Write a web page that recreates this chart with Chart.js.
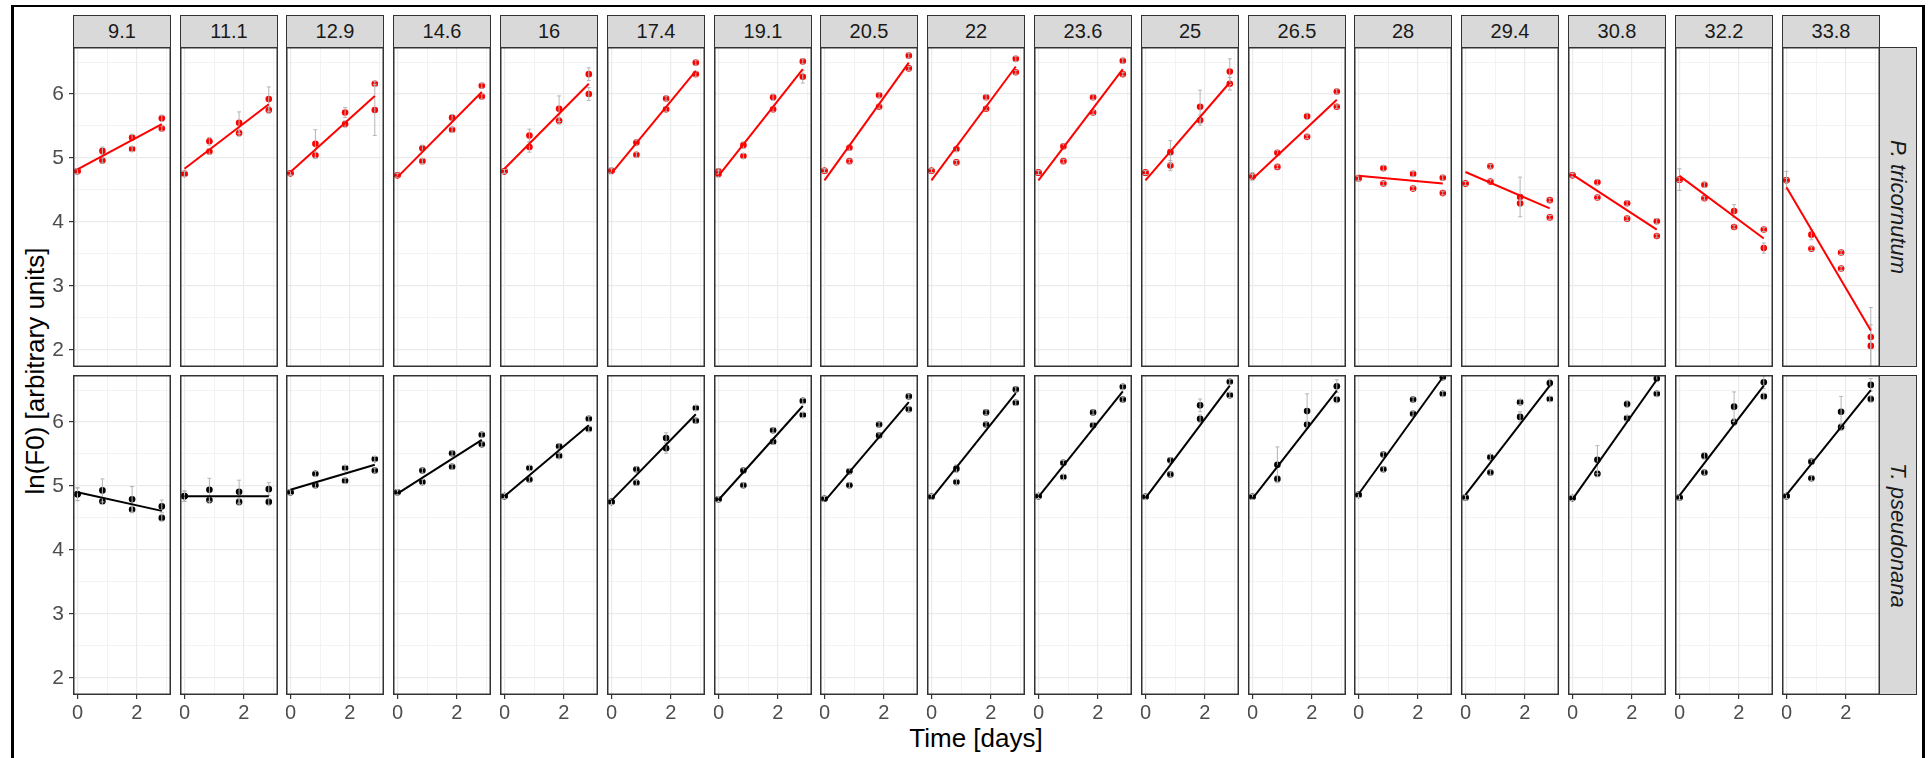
<!DOCTYPE html>
<html>
<head>
<meta charset="utf-8">
<script src="https://cdn.jsdelivr.net/npm/chart.js@4.4.0/dist/chart.umd.min.js"></script>
<style>
  body { margin: 0; background: #fff; width: 1928px; height: 758px; overflow: hidden; position: relative;
         font-family: "Liberation Sans", Arial, sans-serif; }
  .frame { position: absolute; left: 11px; top: 5px; width: 1914px; height: 800px; border: 3px solid #000;
           border-top-width: 2px; box-sizing: border-box; }
  .strip { position: absolute; background: #d9d9d9; border: 1.5px solid #333; box-sizing: border-box; color: #1a1a1a;
           font-size: 20px; display: flex; align-items: center; justify-content: center; }
  .vstrip { font-style: italic; font-size: 22px; writing-mode: vertical-rl; }
  canvas { position: absolute; }
  .title { position: absolute; color: #000; font-size: 26px; white-space: nowrap; }
</style>
</head>
<body>
<div class="frame"></div>
<div class="title" style="left:35px; top:371px; transform: translate(-50%, -50%) rotate(-90deg);">ln(F0) [arbitrary units]</div>
<div class="title" style="left:976px; top:738px; transform: translate(-50%, -50%);">Time [days]</div>
<script>
// temperature facets (columns) and species facets (rows)
var temps = ["9.1", "11.1", "12.9", "14.6", "16", "17.4", "19.1", "20.5", "22",
             "23.6", "25", "26.5", "28", "29.4", "30.8", "32.2", "33.8"];
var species = ["P. tricornutum", "T. pseudonana"];
var days = [0, 0.84, 1.84, 2.84];
var xTicks = [0, 1, 2, 3];          // labelled: 0 and 2
var yTicks = [2, 2.5, 3, 3.5, 4, 4.5, 5, 5.5, 6, 6.5];   // labelled: whole numbers

// ln(F0) per panel: two replicates per day [d0a, d0b, d1a, d1b, d2a, d2b, d3a, d3b]
var ptriValues = [
  [4.79, 4.79, 5.11, 4.96, 5.32, 5.14, 5.62, 5.46],
  [4.75, 4.75, 5.26, 5.10, 5.55, 5.39, 5.92, 5.75],
  [4.76, 4.76, 5.22, 5.04, 5.71, 5.53, 6.16, 5.75],
  [4.73, 4.73, 5.15, 4.95, 5.63, 5.44, 6.13, 5.96],
  [4.79, 4.79, 5.35, 5.17, 5.77, 5.58, 6.31, 6.00],
  [4.80, 4.80, 5.24, 5.05, 5.93, 5.76, 6.49, 6.31],
  [4.79, 4.75, 5.20, 5.03, 5.95, 5.76, 6.51, 6.27],
  [4.80, 4.80, 5.16, 4.95, 5.98, 5.80, 6.60, 6.40],
  [4.80, 4.80, 5.14, 4.93, 5.95, 5.77, 6.55, 6.34],
  [4.77, 4.77, 5.18, 4.95, 5.95, 5.71, 6.52, 6.31],
  [4.77, 4.77, 5.09, 4.88, 5.80, 5.59, 6.35, 6.16],
  [4.71, 4.71, 5.08, 4.86, 5.65, 5.33, 6.04, 5.80],
  [4.68, 4.68, 4.84, 4.60, 4.75, 4.52, 4.69, 4.45],
  [4.60, 4.60, 4.87, 4.63, 4.39, 4.29, 4.34, 4.07],
  [4.73, 4.73, 4.62, 4.38, 4.29, 4.05, 4.01, 3.78],
  [4.66, 4.66, 4.58, 4.37, 4.17, 3.92, 3.88, 3.59],
  [4.65, 4.65, 3.80, 3.58, 3.52, 3.27, 2.20, 2.06]
];
var ptriSd = [
  [.04, .04, .06, .04, .05, .04, .05, .04],
  [.04, .04, .06, .04, .17, .05, .19, .05],
  [.03, .03, .22, .05, .08, .05, .04, .40],
  [.03, .03, .05, .04, .05, .04, .04, .04],
  [.03, .03, .10, .08, .20, .05, .10, .10],
  [.05, .03, .04, .04, .04, .04, .04, .04],
  [.04, .05, .05, .04, .05, .04, .04, .10],
  [.03, .03, .04, .03, .04, .03, .04, .03],
  [.03, .03, .04, .03, .04, .03, .04, .03],
  [.03, .03, .04, .03, .04, .03, .04, .03],
  [.03, .03, .18, .08, .26, .08, .20, .10],
  [.06, .03, .04, .03, .05, .03, .04, .03],
  [.05, .03, .04, .03, .04, .03, .04, .03],
  [.03, .03, .03, .03, .31, .05, .03, .03],
  [.03, .03, .04, .03, .04, .03, .04, .03],
  [.17, .03, .04, .03, .10, .03, .03, .08],
  [.14, .03, .08, .03, .03, .03, .46, .33]
];
// fitted line, value at day 0 and at the last day
var ptriFit = [
  [4.82, 5.53], [4.83, 5.84], [4.78, 5.97], [4.70, 6.03], [4.83, 6.16], [4.76, 6.36],
  [4.72, 6.39], [4.65, 6.49], [4.65, 6.43], [4.65, 6.39], [4.65, 6.18], [4.67, 5.91],
  [4.72, 4.60], [4.78, 4.21], [4.74, 3.88], [4.72, 3.74], [4.54, 2.30]
];

var tpseValues = [
  [4.87, 4.87, 4.93, 4.76, 4.79, 4.63, 4.68, 4.50],
  [4.84, 4.84, 4.94, 4.78, 4.91, 4.75, 4.95, 4.75],
  [4.90, 4.90, 5.19, 5.01, 5.28, 5.08, 5.42, 5.24],
  [4.90, 4.90, 5.24, 5.06, 5.51, 5.30, 5.80, 5.65],
  [4.84, 4.84, 5.28, 5.10, 5.62, 5.47, 6.05, 5.89],
  [4.75, 4.75, 5.26, 5.05, 5.75, 5.59, 6.22, 6.02],
  [4.79, 4.79, 5.24, 5.01, 5.87, 5.69, 6.33, 6.11],
  [4.80, 4.80, 5.23, 5.01, 5.96, 5.79, 6.40, 6.20],
  [4.83, 4.83, 5.27, 5.06, 6.15, 5.96, 6.51, 6.30],
  [4.84, 4.84, 5.36, 5.14, 6.15, 5.95, 6.55, 6.35],
  [4.83, 4.83, 5.40, 5.18, 6.26, 6.05, 6.63, 6.42],
  [4.83, 4.83, 5.33, 5.11, 6.17, 5.96, 6.56, 6.35],
  [4.86, 4.86, 5.49, 5.26, 6.35, 6.13, 6.70, 6.44],
  [4.82, 4.82, 5.45, 5.21, 6.31, 6.08, 6.61, 6.36],
  [4.81, 4.81, 5.41, 5.19, 6.28, 6.06, 6.68, 6.44],
  [4.82, 4.82, 5.47, 5.21, 6.24, 6.00, 6.62, 6.40],
  [4.84, 4.84, 5.38, 5.12, 6.16, 5.92, 6.58, 6.36]
];
var tpseSd = [
  [.10, .10, .18, .05, .20, .05, .10, .05],
  [.08, .08, .18, .05, .18, .05, .10, .05],
  [.04, .04, .04, .04, .04, .04, .04, .04],
  [.04, .04, .04, .04, .04, .04, .04, .04],
  [.04, .04, .04, .04, .04, .04, .04, .04],
  [.04, .04, .04, .04, .08, .08, .04, .04],
  [.04, .04, .04, .04, .04, .04, .04, .04],
  [.04, .04, .04, .04, .04, .04, .04, .04],
  [.04, .04, .06, .04, .04, .04, .04, .04],
  [.04, .04, .04, .04, .04, .04, .04, .04],
  [.04, .04, .04, .04, .10, .06, .04, .04],
  [.04, .04, .28, .05, .27, .05, .10, .05],
  [.04, .04, .04, .04, .04, .04, .04, .04],
  [.04, .04, .04, .04, .04, .08, .06, .04],
  [.04, .04, .22, .05, .05, .04, .05, .04],
  [.04, .04, .05, .04, .23, .05, .10, .05],
  [.04, .04, .04, .04, .24, .05, .10, .05]
];
var tpseFit = [
  [4.90, 4.61], [4.84, 4.84], [4.94, 5.33], [4.88, 5.72], [4.84, 5.95], [4.77, 6.12],
  [4.78, 6.25], [4.76, 6.31], [4.80, 6.45], [4.83, 6.48], [4.81, 6.57], [4.80, 6.49],
  [4.87, 6.70], [4.86, 6.57], [4.79, 6.66], [4.85, 6.57], [4.86, 6.50]
];

var rowColors = ["#ff0000", "#000000"];
var rows = [
  { values: ptriValues, sd: ptriSd, fit: ptriFit },
  { values: tpseValues, sd: tpseSd, fit: tpseFit }
];

Chart.defaults.font.family = "'Liberation Sans', Arial, sans-serif";
Chart.defaults.animation = false;

// grey error bars on the point dataset (drawn below the fitted line)
var errorBars = {
  id: "errorBars",
  afterDatasetDraw: function (chart, args) {
    if (args.index !== 1) return;
    var ds = chart.data.datasets[1];
    var xs = chart.scales.x, ys = chart.scales.y, ctx = chart.ctx, a = chart.chartArea;
    ctx.save();
    ctx.beginPath();
    ctx.rect(a.left, a.top, a.right - a.left, a.bottom - a.top);
    ctx.clip();
    ctx.strokeStyle = "#b5b5b5";
    ctx.lineWidth = 1;
    ds.data.forEach(function (p, i) {
      var s = ds.sd[i];
      var px = xs.getPixelForValue(p.x);
      var y1 = ys.getPixelForValue(p.y - s), y2 = ys.getPixelForValue(p.y + s);
      ctx.beginPath();
      ctx.moveTo(px, y1); ctx.lineTo(px, y2);
      ctx.moveTo(px - 2, y1); ctx.lineTo(px + 2, y1);
      ctx.moveTo(px - 2, y2); ctx.lineTo(px + 2, y2);
      ctx.stroke();
    });
    ctx.restore();
  }
};

// panel border
var panelBorder = {
  id: "panelBorder",
  afterDraw: function (chart) {
    var a = chart.chartArea, ctx = chart.ctx;
    ctx.save();
    ctx.strokeStyle = "#333333";
    ctx.lineWidth = 1.5;
    ctx.strokeRect(a.left + 0.75, a.top + 0.75, a.right - a.left - 1.5, a.bottom - a.top - 1.5);
    ctx.restore();
  }
};

var panelW = 98, panelH = 320;
var rowTops = [47, 375];

function colLeft(c) { return Math.round(72.7 + c * 106.8); }

function addDiv(cls, text, left, top, w, h) {
  var d = document.createElement("div");
  d.className = cls;
  d.textContent = text;
  d.style.left = left + "px"; d.style.top = top + "px";
  d.style.width = w + "px"; d.style.height = h + "px";
  document.body.appendChild(d);
}

function fixSize(w, h) {
  return function (s) {
    if (w !== null) s.width = w;
    if (h !== null) s.height = h;
    s.paddingTop = 0; s.paddingBottom = 0; s.paddingLeft = 0; s.paddingRight = 0;
  };
}

temps.forEach(function (t, c) {
  addDiv("strip", t, colLeft(c), 15, panelW, 33);
});
species.forEach(function (s, r) {
  addDiv("strip vstrip", s, colLeft(16) + panelW - 1, rowTops[r], 38, panelH);
});

rows.forEach(function (row, r) {
  temps.forEach(function (t, c) {
    var yW = c === 0 ? 60 : 0;
    var xH = r === 1 ? 34 : 0;
    var cv = document.createElement("canvas");
    cv.width = panelW + yW; cv.height = panelH + xH;
    cv.style.left = (colLeft(c) - yW) + "px";
    cv.style.top = rowTops[r] + "px";
    cv.style.width = cv.width + "px"; cv.style.height = cv.height + "px";
    document.body.appendChild(cv);

    var pts = row.values[c].map(function (v, i) { return { x: days[Math.floor(i / 2)], y: v }; });
    var fitPts = [{ x: days[0], y: row.fit[c][0] }, { x: days[3], y: row.fit[c][1] }];

    new Chart(cv, {
      type: "scatter",
      data: {
        datasets: [
          { data: fitPts, showLine: true, borderColor: rowColors[r], borderWidth: 2, pointRadius: 0, fill: false },
          { data: pts, sd: row.sd[c], backgroundColor: rowColors[r], borderWidth: 0, pointRadius: 3.3 }
        ]
      },
      options: {
        responsive: false,
        devicePixelRatio: 1,
        layout: { padding: 0, autoPadding: false },
        plugins: { legend: { display: false }, tooltip: { enabled: false } },
        scales: {
          x: {
            type: "linear", min: -0.15, max: 3.15, bounds: "data",
            border: { display: false },
            afterBuildTicks: function (s) { s.ticks = xTicks.map(function (v) { return { value: v }; }); },
            grid: {
              color: "#ebebeb",
              lineWidth: function (ctx) { return ctx.tick && ctx.tick.value % 2 === 0 ? 1.2 : 0.6; },
              drawTicks: r === 1, tickLength: 4,
              tickColor: function (ctx) { return ctx.tick && ctx.tick.value % 2 === 0 ? "#333333" : "rgba(0,0,0,0)"; }
            },
            ticks: {
              display: r === 1, autoSkip: false, maxRotation: 0,
              padding: 2, color: "#4d4d4d", font: { size: 20 },
              callback: function (v) { return v % 2 === 0 ? String(v) : ""; }
            },
            afterFit: fixSize(null, xH)
          },
          y: {
            type: "linear", min: 1.73, max: 6.735, bounds: "data",
            border: { display: false },
            afterBuildTicks: function (s) { s.ticks = yTicks.map(function (v) { return { value: v }; }); },
            grid: {
              color: "#ebebeb",
              lineWidth: function (ctx) { return ctx.tick && ctx.tick.value % 1 === 0 ? 1.2 : 0.6; },
              drawTicks: c === 0, tickLength: 4,
              tickColor: function (ctx) { return ctx.tick && ctx.tick.value % 1 === 0 ? "#333333" : "rgba(0,0,0,0)"; }
            },
            ticks: {
              display: c === 0, autoSkip: false,
              padding: 5, color: "#4d4d4d", font: { size: 21 },
              callback: function (v) { return v % 1 === 0 ? String(v) : ""; }
            },
            afterFit: fixSize(yW, null)
          }
        }
      },
      plugins: [errorBars, panelBorder]
    });
  });
});
</script>
</body>
</html>
